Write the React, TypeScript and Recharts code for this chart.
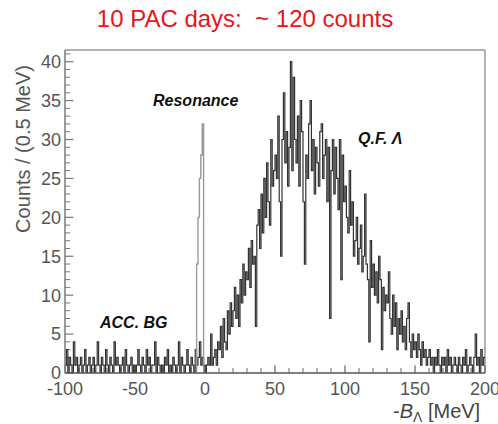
import React from 'react';
import { ComposedChart, Line, XAxis, YAxis, ReferenceLine } from 'recharts';

// Histogram, 1 MeV bins starting at -100 MeV (counts per 0.5 MeV as drawn)
const binStart = -100;
const binWidth = 1;
const counts = [
  // -100 .. -51
  1, 3, 0, 2, 1, 0, 4, 1, 2, 0,
  1, 2, 0, 1, 3, 0, 1, 2, 0, 1,
  2, 0, 1, 4, 1, 0, 2, 1, 0, 3,
  1, 0, 2, 1, 0, 4, 1, 2, 1, 0,
  1, 2, 0, 3, 1, 0, 1, 2, 0, 1,
  // -50 .. -1
  0, 1, 3, 1, 0, 2, 1, 0, 3, 1,
  2, 0, 1, 1, 4, 0, 2, 1, 0, 1,
  0, 2, 1, 3, 0, 1, 0, 2, 1, 0,
  1, 4, 0, 2, 1, 0, 1, 3, 1, 0,
  2, 1, 0, 3, 1, 2, 4, 1, 2, 1,
  // 0 .. 49
  0, 1, 2, 1, 5, 1, 2, 3, 1, 4,
  3, 6, 2, 7, 4, 3, 8, 5, 9, 6,
  8, 11, 7, 10, 6, 12, 9, 14, 10, 13,
  12, 16, 11, 17, 14, 15, 6, 19, 21, 16,
  23, 18, 25, 20, 27, 22, 19, 30, 24, 26,
  // 50 .. 99
  28, 25, 33, 22, 15, 30, 36, 27, 31, 24,
  29, 40, 26, 38, 30, 27, 33, 24, 35, 31,
  22, 14, 28, 25, 32, 35, 26, 30, 23, 29,
  27, 24, 31, 32, 25, 28, 30, 22, 29, 7,
  26, 30, 23, 29, 25, 21, 30, 12, 28, 22,
  // 100 .. 149
  24, 20, 18, 26, 19, 22, 15, 17, 20, 14,
  16, 19, 13, 15, 23, 14, 12, 4, 17, 11,
  14, 10, 13, 9, 15, 12, 3, 11, 8, 10,
  9, 13, 7, 5, 10, 6, 9, 3, 7, 5,
  8, 4, 6, 3, 7, 9, 4, 2, 5, 3,
  // 150 .. 199
  4, 2, 5, 3, 1, 4, 2, 3, 1, 2,
  3, 1, 2, 0, 2, 1, 3, 1, 0, 2,
  1, 2, 0, 3, 1, 2, 0, 1, 2, 1,
  0, 2, 1, 0, 2, 1, 3, 0, 1, 2,
  1, 0, 2, 5, 1, 2, 0, 3, 1, 2,
];

// Resonance peak (grey histogram)
const resonanceStart = -7;
const resonanceCounts = [0, 14, 20, 25, 28, 32, 0];

const xTicks = [-100, -50, 0, 50, 100, 150, 200];
const xMinorTicks = [-90, -80, -70, -60, -40, -30, -20, -10, 10, 20, 30, 40, 60, 70, 80, 90, 110, 120, 130, 140, 160, 170, 180, 190];
const yTicks = [0, 5, 10, 15, 20, 25, 30, 35, 40];
const yMinorTicks = [1, 2, 3, 4, 6, 7, 8, 9, 11, 12, 13, 14, 16, 17, 18, 19, 21, 22, 23, 24, 26, 27, 28, 29, 31, 32, 33, 34, 36, 37, 38, 39, 41];

const X_MIN = -100;
const X_MAX = 200;
const Y_MAX = 41.5;

const data: { x: number; c: number; r?: number | null }[] = counts.map((c, i) => ({
  x: binStart + i * binWidth,
  c,
  r: null,
}));
data.push({ x: binStart + counts.length * binWidth, c: counts[counts.length - 1], r: null });
resonanceCounts.forEach((v, j) => {
  const xv = resonanceStart + j * binWidth;
  const idx = data.findIndex((d) => d.x === xv);
  if (idx >= 0) data[idx].r = v;
});

const tickFont = { fontSize: 18, fill: '#555', fontFamily: 'Liberation Sans, Arial, sans-serif' };
const axisGrey = '#7a7a7a';

export default function App() {
  return (
    <div style={{ position: 'absolute', left: 0, top: 0, width: 498, height: 424, background: '#fff', overflow: 'hidden' }}>
      <ComposedChart
        width={498}
        height={424}
        data={data}
        margin={{ top: 50, right: 13, left: 5, bottom: 5 }}
      >
        <XAxis
          dataKey="x"
          type="number"
          domain={[X_MIN, X_MAX]}
          ticks={xTicks}
          allowDataOverflow
          height={46}
          tickLine={false}
          tickSize={0}
          tickMargin={9}
          axisLine={{ stroke: '#555', strokeWidth: 1.5 }}
          tick={tickFont}
          interval={0}
        />
        <YAxis
          type="number"
          domain={[0, Y_MAX]}
          ticks={yTicks}
          allowDataOverflow
          width={60}
          tickLine={false}
          tickSize={0}
          tickMargin={4}
          axisLine={{ stroke: axisGrey, strokeWidth: 1.5 }}
          tick={tickFont}
          interval={0}
        />
        <ReferenceLine y={Y_MAX} stroke="#999" strokeWidth={1.5} ifOverflow="visible" />
        <ReferenceLine x={X_MAX} stroke="#999" strokeWidth={1.5} ifOverflow="visible" />
        {yTicks.map((t) => (
          <ReferenceLine key={'ym' + t} segment={[{ x: X_MIN, y: t }, { x: X_MIN + 6, y: t }]} stroke={axisGrey} strokeWidth={1.2} ifOverflow="visible" />
        ))}
        {yMinorTicks.map((t) => (
          <ReferenceLine key={'yn' + t} segment={[{ x: X_MIN, y: t }, { x: X_MIN + 3.8, y: t }]} stroke={axisGrey} strokeWidth={1} ifOverflow="visible" />
        ))}
        {xTicks.map((t) => (
          <ReferenceLine key={'xm' + t} segment={[{ x: t, y: 0 }, { x: t, y: 1.0 }]} stroke="#666" strokeWidth={1.2} ifOverflow="visible" />
        ))}
        {xMinorTicks.map((t) => (
          <ReferenceLine key={'xn' + t} segment={[{ x: t, y: 0 }, { x: t, y: 0.65 }]} stroke="#666" strokeWidth={1} ifOverflow="visible" />
        ))}
        <Line
          dataKey="c"
          type="stepAfter"
          stroke="#333"
          strokeWidth={1.2}
          dot={false}
          isAnimationActive={false}
        />
        <Line
          dataKey="r"
          type="stepAfter"
          stroke="#9a9a9a"
          strokeWidth={1.4}
          dot={false}
          connectNulls={false}
          isAnimationActive={false}
        />
      </ComposedChart>
      <svg width={498} height={424} style={{ position: 'absolute', left: 0, top: 0, pointerEvents: 'none' }}>
        <text x={245} y={27} textAnchor="middle" fontSize={24} fill="#e8141b" fontFamily="Liberation Sans, Arial, sans-serif" style={{ whiteSpace: 'pre' }}>
          10 PAC days:  ~ 120 counts
        </text>
        <text x={23} y={149} transform="rotate(-90 23 149)" textAnchor="middle" dominantBaseline="central" fontSize={20} fill="#555" fontFamily="Liberation Sans, Arial, sans-serif">
          Counts / (0.5 MeV)
        </text>
        <text x={153} y={106} fontSize={16} fontWeight="bold" fontStyle="italic" fill="#111" fontFamily="Liberation Sans, Arial, sans-serif">Resonance</text>
        <text x={358} y={144} fontSize={16} fontWeight="bold" fontStyle="italic" fill="#111" fontFamily="Liberation Sans, Arial, sans-serif">Q.F. Λ</text>
        <text x={100} y={328} fontSize={16} fontWeight="bold" fontStyle="italic" fill="#111" fontFamily="Liberation Sans, Arial, sans-serif">ACC. BG</text>
        <text x={393} y={418} fontSize={20} fill="#444" fontFamily="Liberation Sans, Arial, sans-serif">
          -<tspan fontStyle="italic">B</tspan>
          <tspan fontSize={14} dy={4}>Λ</tspan>
          <tspan dy={-4}> [MeV]</tspan>
        </text>
        <text x={258} y={437} fontSize={18} fill="#444" fontFamily="Liberation Sans, Arial, sans-serif">(b)</text>
      </svg>
    </div>
  );
}
